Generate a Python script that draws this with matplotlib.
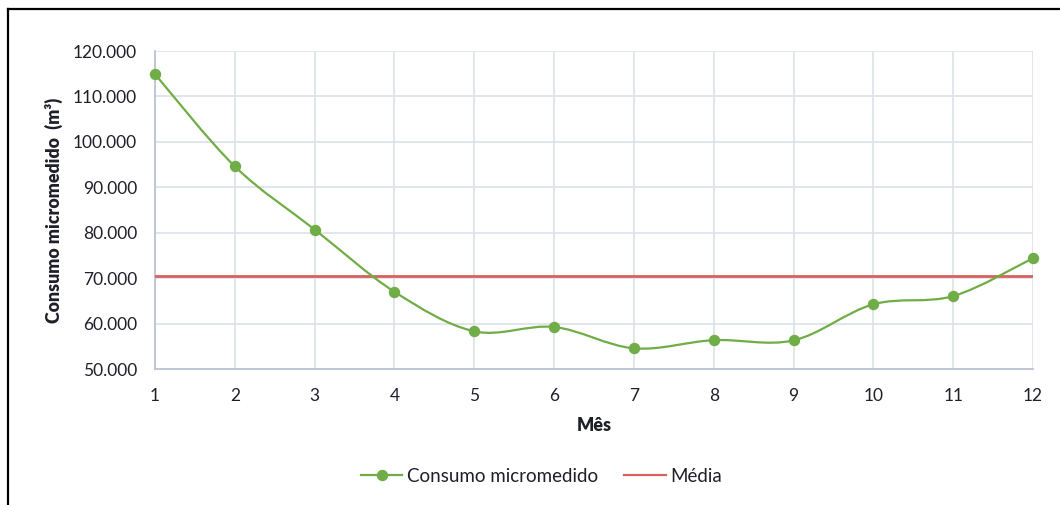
import matplotlib
matplotlib.use("Agg")
import matplotlib.pyplot as plt
from matplotlib.path import Path
from matplotlib.patches import PathPatch
from matplotlib.lines import Line2D
from matplotlib.ticker import FuncFormatter, MultipleLocator
import numpy as np

plt.rcParams['font.family'] = ['Lato', 'DejaVu Sans']

# ---- data ----
meses = [1, 2, 3, 4, 5, 6, 7, 8, 9, 10, 11, 12]
consumo = [114900, 94600, 80700, 67000, 58300, 59250, 54550, 56350, 56300, 64250, 66050, 74400]
media = [70500] * 12
serie_label = "Consumo micromedido"
media_label = "Média"
x_label = "Mês"
y_label = "Consumo micromedido  (m³)"

green = '#70AD47'
red = '#D9605E'
grid_c = '#DCE1EA'
axis_c = '#BCC4D2'
text_c = '#1F1F2A'

fig = plt.figure(figsize=(10.6, 5.05), dpi=100)
ax = fig.add_axes([155/1060, 1-369/505, (1033-155)/1060, (369-51)/505])

ax.set_xlim(1, 12)
ax.set_ylim(50000, 120000)
ax.xaxis.set_major_locator(MultipleLocator(1))
ax.yaxis.set_major_locator(MultipleLocator(10000))
ax.yaxis.set_major_formatter(FuncFormatter(lambda v, p: f"{int(v):,}".replace(",", ".")))
ax.grid(True, color=grid_c, linewidth=1.2)
ax.set_axisbelow(True)
for s in ['top', 'right']:
    ax.spines[s].set_visible(False)
for s in ['left', 'bottom']:
    ax.spines[s].set_color(axis_c)
    ax.spines[s].set_linewidth(1.3)
ax.tick_params(length=0, labelsize=12.5, colors=text_c)
ax.tick_params(axis='y', pad=13)
ax.tick_params(axis='x', pad=14)

# mean line
ax.plot(meses, media, color=red, linewidth=2.0, zorder=3)

# smoothed (Excel-like) curve via Bezier path through data points
xs = np.array(meses, dtype=float)
ys = np.array(consumo, dtype=float)
verts = [(xs[0], ys[0])]
codes = [Path.MOVETO]
n = len(xs)
t = 1/6
for i in range(n-1):
    p0 = (xs[i-1], ys[i-1]) if i > 0 else (xs[i], ys[i])
    p1 = (xs[i], ys[i])
    p2 = (xs[i+1], ys[i+1])
    p3 = (xs[i+2], ys[i+2]) if i+2 < n else (xs[i+1], ys[i+1])
    c1 = (p1[0] + (p2[0]-p0[0])*t, p1[1] + (p2[1]-p0[1])*t)
    c2 = (p2[0] - (p3[0]-p1[0])*t, p2[1] - (p3[1]-p1[1])*t)
    verts += [c1, c2, p2]
    codes += [Path.CURVE4]*3
patch = PathPatch(Path(verts, codes), facecolor='none', edgecolor=green, linewidth=1.6, zorder=4, clip_on=False)
ax.add_patch(patch)
ax.plot(meses, consumo, linestyle='none', marker='o', markersize=7.2, color=green, zorder=5, clip_on=False)

ax.set_xlabel(x_label, fontsize=13, fontweight='heavy', color=text_c, labelpad=9)
ax.set_ylabel(y_label, fontsize=12.8, fontweight='heavy', color=text_c, labelpad=7)

handles = [Line2D([], [], color=green, linewidth=1.6, marker='o', markersize=7.2),
           Line2D([], [], color=red, linewidth=1.6)]
fig.legend(handles, [serie_label, media_label], loc='center', bbox_to_anchor=(0.511, 1-476/505),
           ncol=2, frameon=False, fontsize=13.5, handlelength=2.2, handletextpad=0.25,
           columnspacing=1.4, labelcolor=text_c)

# outer black frame (left and top edges visible)
fig.add_artist(Line2D([8/1060, 8/1060], [0, 1-9/505], transform=fig.transFigure, color='black', linewidth=1.6))
fig.add_artist(Line2D([8/1060, 1], [1-9/505, 1-9/505], transform=fig.transFigure, color='black', linewidth=1.6))

fig.savefig('out.png', dpi=100, facecolor='white')
